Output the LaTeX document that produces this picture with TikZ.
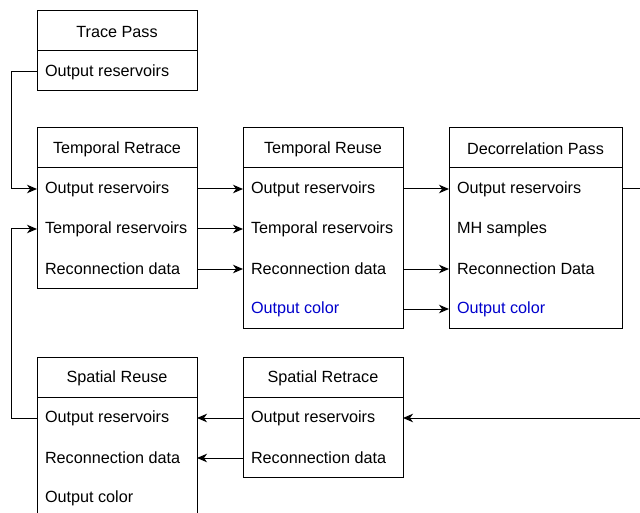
\documentclass[tikz,border=0pt]{standalone}
\usepackage{fontspec}
\setmainfont{Liberation Sans}
\usetikzlibrary{arrows.meta}
\definecolor{linkblue}{HTML}{0000CC}
\begin{document}
\begin{tikzpicture}[x=1pt,y=-1pt,
  font=\fontsize{16.2}{19}\selectfont,
  box/.style={draw, line width=1pt, minimum width=160pt, inner sep=0pt, outer sep=0pt},
  headtext/.style={inner sep=0pt, yshift=-1pt},
  rowtext/.style={anchor=west, inner xsep=8pt, inner ysep=0pt, outer sep=0pt, yshift=-1pt},
  link/.style={line width=1pt},
  arr/.style={line width=1pt, -{Stealth[length=10pt,width=8.5pt,inset=3pt]}},
  blue/.style={text=linkblue}]
\useasboundingbox (0,0) rectangle (640,513);
\clip (0,0) rectangle (640,513);

% Trace Pass
\node[box, minimum height=80pt] (tp) at (117,51) {};
\draw[link] (tp.north west) ++(0,40) -- ++(160,0);
\node[headtext] (tpH) at (117,31) {Trace Pass};
\node[rowtext] (tp1) at (37,71) {Output reservoirs};

% Temporal Retrace
\node[box, minimum height=160pt] (trt) at (117,208) {};
\draw[link] (trt.north west) ++(0,40) -- ++(160,0);
\node[headtext] (trtH) at (117,148) {Temporal Retrace};
\node[rowtext] (trt1) at (37,188) {Output reservoirs};
\node[rowtext] (trt2) at (37,228) {Temporal reservoirs};
\node[rowtext] (trt3) at (37,268) {Reconnection data};

% Temporal Reuse
\node[box, minimum height=200pt] (tru) at (323,228) {};
\draw[link] (tru.north west) ++(0,40) -- ++(160,0);
\node[headtext] (truH) at (323,148) {Temporal Reuse};
\node[rowtext] (tru1) at (243,188) {Output reservoirs};
\node[rowtext] (tru2) at (243,228) {Temporal reservoirs};
\node[rowtext] (tru3) at (243,268) {Reconnection data};
\node[rowtext, blue] (tru4) at (243,308) {Output color};

% Decorrelation Pass
\node[box, minimum width=173pt, minimum height=200pt] (dp) at (535.5,228) {};
\draw[link] (dp.north west) ++(0,40) -- ++(173,0);
\node[headtext] (dpH) at (535.5,148) {Decorrelation Pass};
\node[rowtext] (dp1) at (449,188) {Output reservoirs};
\node[rowtext] (dp2) at (449,228) {MH samples};
\node[rowtext] (dp3) at (449,268) {Reconnection Data};
\node[rowtext, blue] (dp4) at (449,308) {Output color};

% Spatial Reuse
\node[box, minimum height=160pt] (sru) at (117,437) {};
\draw[link] (sru.north west) ++(0,40) -- ++(160,0);
\node[headtext] (sruH) at (117,377) {Spatial Reuse};
\node[rowtext] (sru1) at (37,417) {Output reservoirs};
\node[rowtext] (sru2) at (37,457) {Reconnection data};
\node[rowtext] (sru3) at (37,497) {Output color};

% Spatial Retrace
\node[box, minimum height=120pt] (srt) at (323,417) {};
\draw[link] (srt.north west) ++(0,40) -- ++(160,0);
\node[headtext] (srtH) at (323,377) {Spatial Retrace};
\node[rowtext] (srt1) at (243,417) {Output reservoirs};
\node[rowtext] (srt2) at (243,457) {Reconnection data};

% free ends at the right border
\coordinate (rightEdge) at (642,0);
\coordinate (outR) at (dp1 -| rightEdge);
\coordinate (inR) at (srt1 -| rightEdge);

% connectors
\draw[arr] (tp.west |- tp1) -- ++(-26,0) |- (trt.west |- trt1);
\draw[arr] (sru.west |- sru1) -- ++(-26,0) |- (trt.west |- trt2);

\draw[arr] (trt.east |- trt1) -- (tru.west |- tru1);
\draw[arr] (trt.east |- trt2) -- (tru.west |- tru2);
\draw[arr] (trt.east |- trt3) -- (tru.west |- tru3);

\draw[arr] (tru.east |- tru1) -- (dp.west |- dp1);
\draw[arr] (tru.east |- tru3) -- (dp.west |- dp3);
\draw[arr] (tru.east |- tru4) -- (dp.west |- dp4);

\draw[link] (dp.east |- dp1) -- (outR);
\draw[arr] (inR) -- (srt.east |- srt1);

\draw[arr] (srt.west |- srt1) -- (sru.east |- sru1);
\draw[arr] (srt.west |- srt2) -- (sru.east |- sru2);
\end{tikzpicture}
\end{document}
